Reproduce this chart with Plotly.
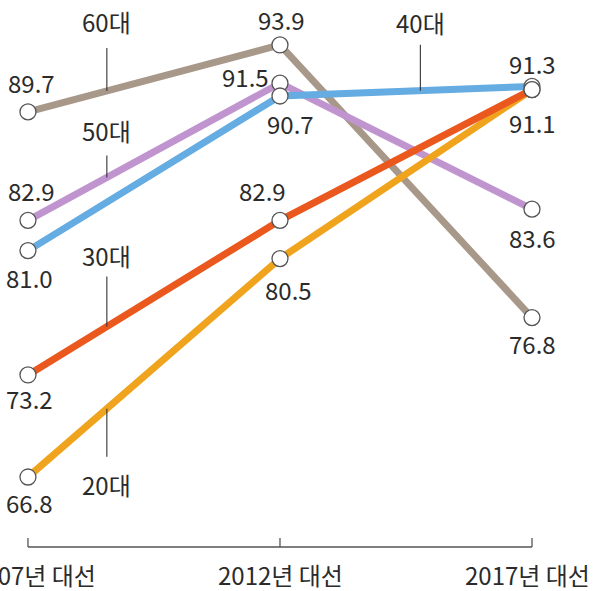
import plotly.graph_objects as go

# ---- data ----
years = ["2007년 대선", "2012년 대선", "2017년 대선"]
groups = ["60대", "50대", "40대", "20대", "30대"]          # draw order (bottom -> top)
age60 = [89.7, 93.9, 76.8]
age50 = [82.9, 91.5, 83.6]
age40 = [81.0, 90.7, 91.3]
age20 = [66.8, 80.5, 91.1]
age30 = [73.2, 82.9, 91.1]
series = [age60, age50, age40, age20, age30]
show_label = [
    [True, True, True],
    [True, True, True],
    [True, True, True],
    [True, True, False],
    [True, True, True],
]

# ---- styles / positions ----
colors = ["#A8988A", "#C094CE", "#64ACE2", "#F0A41E", "#EA581E"]
# value label offsets (dx, dy in screen pixels, down positive)
label_off = [
    [(4, -29), (2, -25), (0, 26)],
    [(4, -30), (-34, -7), (0, 28)],
    [(2, 27), (11, 28), (0, -23)],
    [(2, 25), (9, 31), (0, 0)],
    [(2, 24), (-17, -30), (0, 33)],
]
# series name labels: (x position in category units, ay pixels, startstandoff)
name_pos = [
    (0.313, -69, 7),
    (0.313, -47, 6),
    (1.557, -68, 3),
    (0.313, 76, 9),
    (0.313, -71, 2),
]

xs = list(range(len(years)))
font = dict(family="Noto Sans CJK KR, Noto Sans, sans-serif", size=24, color="#2b2b2b")

fig = go.Figure()
for name, vals, col in zip(groups, series, colors):
    fig.add_trace(go.Scatter(x=xs, y=vals, mode="lines", name=name,
                             line=dict(color=col, width=7), hoverinfo="skip"))
for name, vals in zip(groups, series):
    fig.add_trace(go.Scatter(x=xs, y=vals, mode="markers", showlegend=False,
                             marker=dict(size=16, color="white",
                                         line=dict(color="#555555", width=1.3)),
                             hoverinfo="skip"))

annotations = []
for vals, flags, offs in zip(series, show_label, label_off):
    for i, (v, f, (dx, dy)) in enumerate(zip(vals, flags, offs)):
        if not f:
            continue
        annotations.append(dict(x=xs[i], y=v, text=f"{v:.1f}", showarrow=False,
                                xshift=dx, yshift=-dy, font=font,
                                xanchor="center", yanchor="middle"))

for name, vals, (px, ay, sso) in zip(groups, series, name_pos):
    i0 = int(px)
    t = px - i0
    yv = vals[i0] + t * (vals[i0 + 1] - vals[i0])
    annotations.append(dict(x=px, y=yv, text=name, showarrow=True, arrowhead=0,
                            arrowwidth=1.1, arrowcolor="#333333", ax=0, ay=ay,
                            startstandoff=sso, standoff=0, font=font))

# x axis drawn as a baseline with upward ticks
y_axis = 62.41
tick_len = 0.565
shapes = [dict(type="line", xref="x", yref="y", x0=xs[0], x1=xs[-1], y0=y_axis, y1=y_axis,
               line=dict(color="#555555", width=1.3))]
tick_shift = [6, 1, -5]
for i, lab in enumerate(years):
    shapes.append(dict(type="line", xref="x", yref="y", x0=xs[i], x1=xs[i],
                       y0=y_axis, y1=y_axis + tick_len,
                       line=dict(color="#555555", width=1.3)))
    annotations.append(dict(x=xs[i], y=y_axis, text=lab, showarrow=False,
                            xshift=tick_shift[i], yshift=-27, font=font,
                            xanchor="center", yanchor="middle"))

fig.update_layout(
    width=595, height=591,
    margin=dict(l=0, r=0, t=0, b=0),
    paper_bgcolor="white", plot_bgcolor="white",
    showlegend=False,
    xaxis=dict(range=[-0.111, 2.25], visible=False, fixedrange=True),
    yaxis=dict(range=[59.65, 96.72], visible=False, fixedrange=True),
    annotations=annotations,
    shapes=shapes,
)

fig.write_html("out.html")
